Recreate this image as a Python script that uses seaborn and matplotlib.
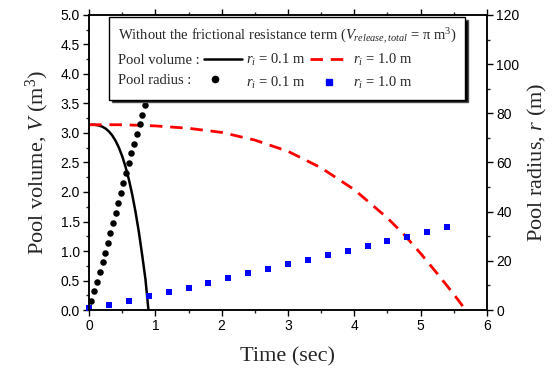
import matplotlib
matplotlib.use("Agg")
import matplotlib.pyplot as plt
from matplotlib.lines import Line2D
from matplotlib.ticker import MultipleLocator
import seaborn as sns

# ---- data ----
vol_t_01 = [0, 0.05, 0.1, 0.15, 0.2, 0.25, 0.3, 0.35, 0.4, 0.45, 0.5, 0.55,
            0.6, 0.65, 0.7, 0.75, 0.8, 0.85, 0.895]
vol_v_01 = [3.14, 3.14, 3.137, 3.127, 3.107, 3.074, 3.025, 2.957, 2.866, 2.749,
            2.603, 2.425, 2.211, 1.958, 1.663, 1.324, 0.935, 0.52, 0.0]

vol_t_10 = [0, 0.5, 1, 1.5, 2, 2.5, 3, 3.5, 4, 4.5, 4.75, 5, 5.25, 5.5, 5.68]
vol_v_10 = [3.14, 3.14, 3.12, 3.08, 3.01, 2.88, 2.69, 2.41, 2.04, 1.56, 1.28,
            0.96, 0.62, 0.27, 0.0]

rad_t_01 = [0.03, 0.075, 0.116, 0.16, 0.205, 0.245, 0.278, 0.318, 0.365, 0.405,
            0.437, 0.478, 0.517, 0.558, 0.598, 0.638, 0.678, 0.719, 0.768, 0.8, 0.84]
rad_r_01 = [3.6, 7.7, 11.5, 15.6, 19.5, 23.3, 27.4, 31.4, 35.3, 39.3, 43.4, 47.5,
            51.5, 55.6, 59.7, 63.8, 67.6, 71.6, 75.5, 79.5, 83.5]

rad_t_10 = [0, 0.3, 0.6, 0.9, 1.2, 1.5, 1.8, 2.1, 2.4, 2.7, 3.0, 3.3, 3.6, 3.9,
            4.2, 4.5, 4.8, 5.1, 5.4]
rad_r_10 = [1.0, 1.9, 3.7, 5.6, 7.3, 9.1, 11.1, 13.0, 14.9, 16.7, 18.6, 20.5,
            22.4, 24.1, 26.0, 27.9, 29.8, 31.7, 33.6]

x_ticks = [0, 1, 2, 3, 4, 5, 6]
v_ticks = [0.0, 0.5, 1.0, 1.5, 2.0, 2.5, 3.0, 3.5, 4.0, 4.5, 5.0]
r_ticks = [0, 20, 40, 60, 80, 100, 120]

# ---- style ----
sns.set_style("ticks")
plt.rcParams["font.family"] = ["Liberation Sans", "DejaVu Sans"]
plt.rcParams["mathtext.fontset"] = "custom"
plt.rcParams["mathtext.rm"] = "Liberation Serif"
plt.rcParams["mathtext.it"] = "Liberation Serif:italic"
plt.rcParams["mathtext.bf"] = "Liberation Serif:bold"

SERIF = ["Liberation Serif", "DejaVu Serif"]

fig = plt.figure(figsize=(5.57, 3.71), dpi=100)
ax = fig.add_axes([0.160, 0.1644, 0.714, 0.7952])
ax2 = ax.twinx()

sns.lineplot(x=vol_t_01, y=vol_v_01, ax=ax, color="black", linewidth=1.8,
             sort=False, estimator=None)
sns.lineplot(x=vol_t_10, y=vol_v_10, ax=ax, color="#ff0000", linewidth=2.0,
             sort=False, estimator=None, dashes=False)
ax.lines[-1].set_dashes((4.5, 2.8))

sns.scatterplot(x=rad_t_01, y=rad_r_01, ax=ax2, color="black", marker="o",
                s=22, linewidth=0)
sns.scatterplot(x=rad_t_10, y=rad_r_10, ax=ax2, color="#0000ff", marker="s",
                s=24, linewidth=0)
for c in ax2.collections:
    c.set_clip_on(False)

ax.set_xlim(0, 6)
ax.set_ylim(0, 5)
ax2.set_ylim(0, 120)
ax.set_xticks(x_ticks)
ax.set_yticks(v_ticks)
ax2.set_yticks(r_ticks)
ax.set_xticklabels([str(v) for v in x_ticks])
ax.set_yticklabels([f"{v:.1f}" for v in v_ticks])
ax2.set_yticklabels([str(v) for v in r_ticks])
ax.xaxis.set_minor_locator(MultipleLocator(0.5))
ax.yaxis.set_minor_locator(MultipleLocator(0.25))
ax2.yaxis.set_minor_locator(MultipleLocator(10))

for a in (ax, ax2):
    for s in a.spines.values():
        s.set_visible(True)
        s.set_color("black")
        s.set_linewidth(1.1)
ax.tick_params(axis="both", which="major", direction="out", length=4.3, width=1,
               labelsize=10, colors="black", top=True, pad=2.5)
ax.tick_params(axis="both", which="minor", direction="out", length=2.3, width=1,
               top=True)
ax.tick_params(axis="x", labeltop=False)
ax2.tick_params(axis="y", which="major", direction="out", length=4.3, width=1,
                labelsize=10, colors="black", pad=2.5)
ax2.tick_params(axis="y", which="minor", direction="out", length=2.3, width=1)

ax.set_xlabel("Time (sec)", family=SERIF, fontsize=16, labelpad=10)
ax.set_ylabel("Pool volume, $V$ (m$^3$)", family=SERIF, fontsize=16, labelpad=7)
ax2.set_ylabel("Pool radius, $r$ (m)", family=SERIF, fontsize=16, labelpad=5)

# ---- legend (label-first layout, left-aligned columns) ----
blank = Line2D([], [], linestyle="none", marker=None)
h_line01 = Line2D([], [], color="black", linewidth=1.8)
h_line10 = Line2D([], [], color="#ff0000", linewidth=2.0, dashes=(4.5, 2.8))
h_dot = Line2D([], [], linestyle="none", marker="o", color="black", markersize=4.5)
h_sq = Line2D([], [], linestyle="none", marker="s", color="#0000ff", markersize=4.5)

handles = [h_line01, h_dot, h_line10, h_sq, blank, blank]
labels = ["Pool volume :", "Pool radius :",
          "$r_i$ = 0.1 m", "$r_i$ = 0.1 m",
          "$r_i$ = 1.0 m", "$r_i$ = 1.0 m"]
leg = ax2.legend(handles, labels, ncol=3, markerfirst=False,
                 title="Without the frictional resistance term ($V_{release,total}$ = π m$^3$)",
                 loc="upper left", bbox_to_anchor=(0.051, 0.992), borderaxespad=0,
                 frameon=True, fancybox=False, edgecolor="black", framealpha=1,
                 shadow={"facecolor": "black", "alpha": 1},
                 prop={"family": SERIF, "size": 10.5},
                 title_fontproperties={"family": SERIF, "size": 10.5},
                 alignment="left", handlelength=2.6, handletextpad=0.3,
                 columnspacing=0.3, labelspacing=0.45, borderpad=0.6)
leg.get_frame().set_linewidth(1.0)
for col in leg._legend_handle_box.get_children():
    col.align = "left"

fig.savefig("out.png", dpi=100)
